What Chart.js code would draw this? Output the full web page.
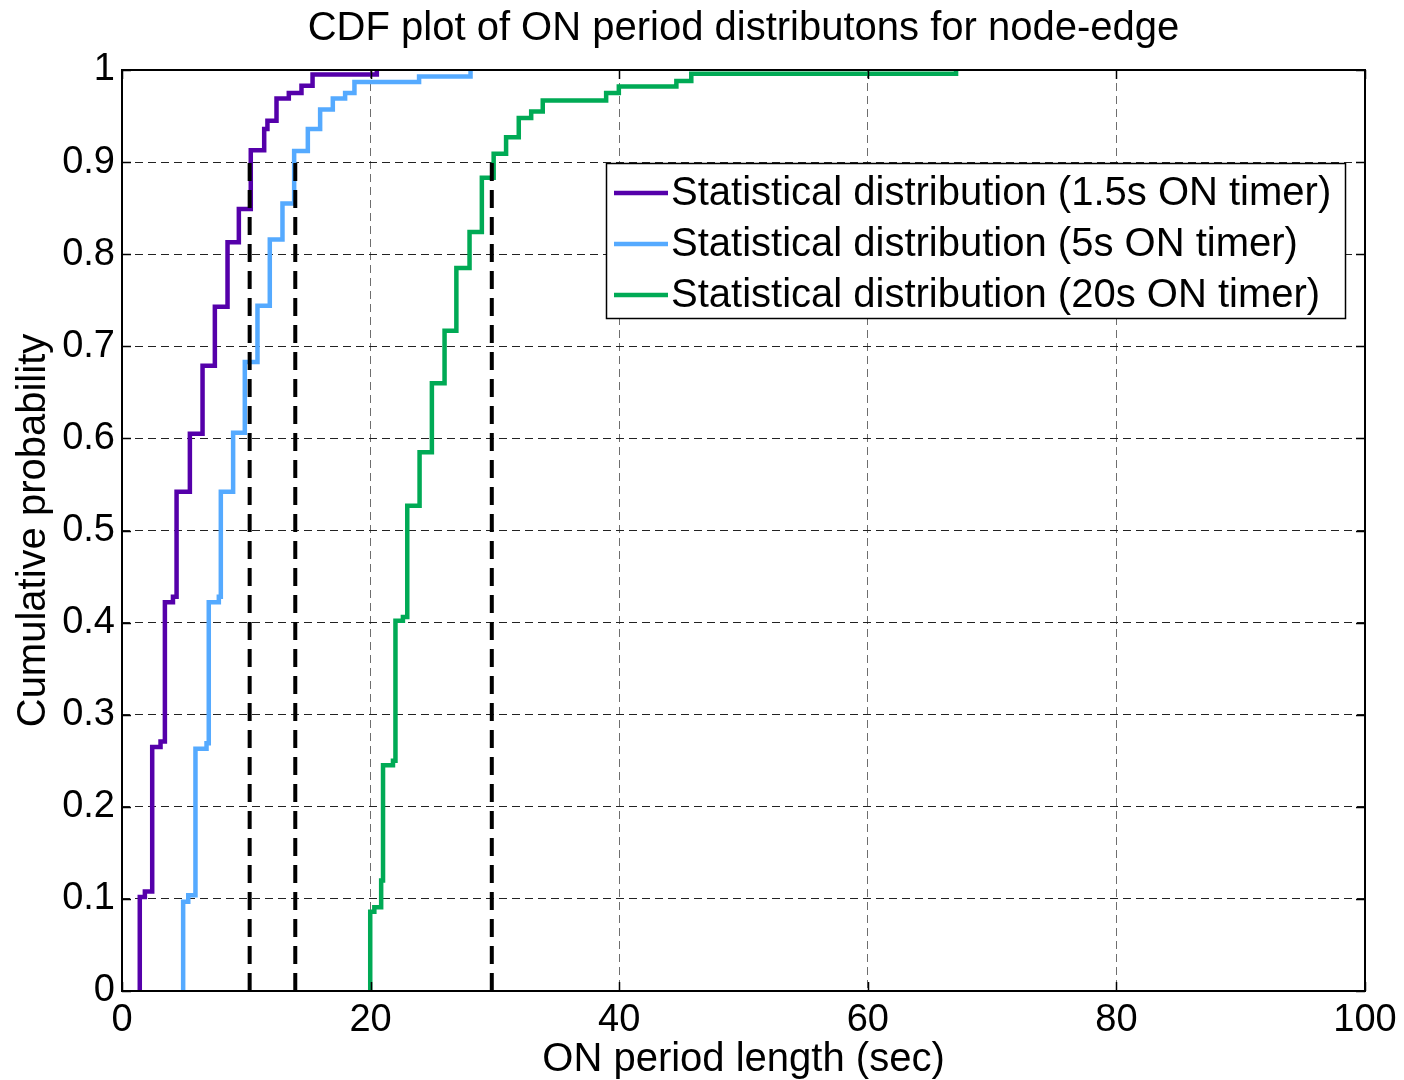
<!DOCTYPE html>
<html><head><meta charset="utf-8">
<script src="https://cdn.jsdelivr.net/npm/chart.js@4.4.1/dist/chart.umd.min.js"></script>
<style>html,body{margin:0;padding:0;background:#fff}#wrap{width:1404px;height:1080px}</style>
</head><body>
<div id="wrap"><canvas id="c" width="1404" height="1080"></canvas></div>
<script>
// ---- data ----
const titleText = 'CDF plot of ON period distributons for node-edge';
const xAxisTitle = 'ON period length (sec)';
const yAxisTitle = 'Cumulative probability';
const seriesLabels = [
  'Statistical distribution (1.5s ON timer)',
  'Statistical distribution (5s ON timer)',
  'Statistical distribution (20s ON timer)'
];
const seriesColors = ['#5500aa', '#55aaff', '#00aa55'];

const purpleX = [1.43, 1.84, 2.43, 3.1, 3.45, 4.1, 4.39, 5.46, 6.48, 7.47, 8.49, 9.4, 10.36, 11.44, 11.7, 12.43, 13.42, 14.44, 15.33, 20.5];
const purpleY = [0.102, 0.108, 0.265, 0.271, 0.422, 0.428, 0.542, 0.605, 0.679, 0.743, 0.813, 0.849, 0.913, 0.936, 0.945, 0.969, 0.975, 0.983, 0.995, 1.0];

const blueX = [4.92, 5.33, 5.91, 6.8, 6.98, 7.79, 7.95, 8.94, 9.88, 10.9, 11.89, 12.91, 13.85, 14.95, 15.94, 16.96, 17.95, 18.7, 23.9, 28.04];
const blueY = [0.097, 0.104, 0.263, 0.269, 0.422, 0.428, 0.542, 0.606, 0.683, 0.744, 0.816, 0.855, 0.912, 0.936, 0.957, 0.969, 0.975, 0.987, 0.993, 1.0];

const greenX = [19.97, 20.3, 20.85, 21.0, 21.8, 22.0, 22.6, 22.95, 23.94, 24.93, 25.95, 26.9, 27.96, 28.95, 29.9, 30.9, 31.92, 32.92, 33.85, 38.95, 39.97, 44.6, 45.8, 67.1];
const greenY = [0.086, 0.091, 0.12, 0.245, 0.25, 0.402, 0.406, 0.527, 0.585, 0.660, 0.717, 0.785, 0.824, 0.883, 0.909, 0.927, 0.948, 0.955, 0.967, 0.975, 0.982, 0.988, 0.996, 1.0];

const p90X = [10.27, 13.94, 29.75];
const p90Level = 0.9;

const xTicks = [0, 20, 40, 60, 80, 100];
const yTicks = [0, 0.1, 0.2, 0.3, 0.4, 0.5, 0.6, 0.7, 0.8, 0.9, 1];

// ---- build ----
const FONT = '"Liberation Sans", Arial, Helvetica, sans-serif';
function cdfPoints(xs, ys) {
  const pts = [{x: xs[0], y: 0}];
  xs.forEach((x, i) => pts.push({x: x, y: ys[i]}));
  return pts;
}
const curves = [[purpleX, purpleY], [blueX, blueY], [greenX, greenY]];
const datasets = curves.map((c, i) => ({
  label: seriesLabels[i],
  data: cdfPoints(c[0], c[1]),
  borderColor: seriesColors[i],
  backgroundColor: seriesColors[i],
  borderWidth: 4.5,
  stepped: 'before',
  pointRadius: 0,
  fill: false,
  order: 3 - i
}));
p90X.forEach(x => datasets.push({
  label: '',
  isMarker: true,
  data: [{x: x, y: 0}, {x: x, y: p90Level}],
  borderColor: '#000',
  borderWidth: 4,
  borderDash: [18, 9],
  pointRadius: 0,
  fill: false,
  order: 0
}));

const framePlugin = {
  id: 'frame',
  afterDatasetsDraw(chart) {
    const {ctx, chartArea: a, scales: {x, y}} = chart;
    ctx.save();
    ctx.strokeStyle = '#000';
    ctx.lineWidth = 2;
    ctx.setLineDash([]);
    ctx.strokeRect(a.left, a.top, a.right - a.left, a.bottom - a.top);
    ctx.lineWidth = 1.5;
    const tl = 9;
    ctx.beginPath();
    xTicks.forEach(v => {
      const px = Math.round(x.getPixelForValue(v)) + 0.5;
      ctx.moveTo(px, a.bottom); ctx.lineTo(px, a.bottom - tl);
      ctx.moveTo(px, a.top); ctx.lineTo(px, a.top + tl);
    });
    yTicks.forEach(v => {
      const py = Math.round(y.getPixelForValue(v)) + 0.5;
      ctx.moveTo(a.left, py); ctx.lineTo(a.left + tl, py);
      ctx.moveTo(a.right, py); ctx.lineTo(a.right - tl, py);
    });
    ctx.stroke();

    // legend
    const bx = 606, by = 163, bw = 739, bh = 155;
    ctx.fillStyle = '#fff';
    ctx.fillRect(bx, by, bw, bh);
    ctx.lineWidth = 1.5;
    ctx.strokeStyle = '#000';
    ctx.strokeRect(bx + 0.5, by + 0.5, bw, bh);
    ctx.font = '40px ' + FONT;
    ctx.textBaseline = 'middle';
    ctx.textAlign = 'left';
    const items = chart.data.datasets.filter(d => !d.isMarker);
    items.forEach((d, i) => {
      const cy = by + 30 + i * 51;
      ctx.strokeStyle = d.borderColor;
      ctx.lineWidth = 4.5;
      ctx.beginPath();
      ctx.moveTo(614, cy); ctx.lineTo(668, cy);
      ctx.stroke();
      ctx.fillStyle = '#000';
      ctx.fillText(d.label, 671, cy + 1);
    });
    ctx.restore();
  }
};

new Chart(document.getElementById('c'), {
  type: 'line',
  data: { datasets },
  plugins: [framePlugin],
  options: {
    responsive: false,
    animation: false,
    devicePixelRatio: 1,
    layout: { padding: { left: 0, right: 39, top: 0, bottom: 0 } },
    plugins: {
      legend: { display: false },
      tooltip: { enabled: false },
      title: {
        display: true,
        fullSize: false,
        text: titleText,
        color: '#000',
        font: { family: FONT, size: 40, weight: 'normal' },
        padding: { top: 5, bottom: 17 }
      }
    },
    scales: {
      x: {
        type: 'linear',
        min: 0, max: 100,
        afterFit: s => { s.height = 89; },
        afterBuildTicks: s => { s.ticks = xTicks.map(v => ({value: v})); },
        ticks: { color: '#000', padding: 7, maxRotation: 0, font: { family: FONT, size: 38 }, callback: v => String(v) },
        grid: { color: '#6e6e6e', lineWidth: 1, drawTicks: false },
        border: { display: false, dash: [8, 5] },
        title: { display: true, text: xAxisTitle, color: '#000', font: { family: FONT, size: 40 }, padding: { top: 0, bottom: -4 } }
      },
      y: {
        type: 'linear',
        min: 0, max: 1,
        afterFit: s => { s.width = 122; },
        afterBuildTicks: s => { s.ticks = yTicks.map(v => ({value: v})); },
        ticks: { color: '#000', padding: 7, font: { family: FONT, size: 38 }, callback: v => String(Math.round(v * 10) / 10) },
        grid: { color: '#222', lineWidth: 1, drawTicks: false },
        border: { display: false, dash: [8, 5] },
        title: { display: true, text: yAxisTitle, color: '#000', font: { family: FONT, size: 40 }, padding: { top: 10, bottom: 0 } }
      }
    }
  }
});
</script>
</body></html>
